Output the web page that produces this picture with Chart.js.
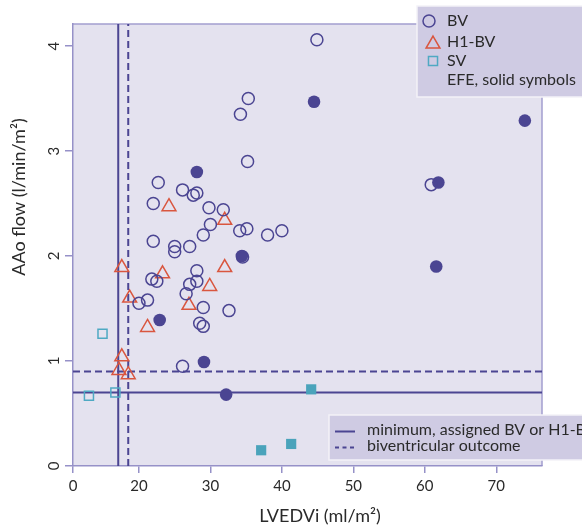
<!DOCTYPE html>
<html lang="en">
<head>
  <meta charset="UTF-8" />
  <title>AAo flow vs LVEDVi</title>
  <script src="https://cdn.jsdelivr.net/npm/chart.js"></script>
  <style>
    body { margin: 0; background: #fff; }
    #wrap { width: 582px; height: 529px; }
  </style>
</head>
<body>
  <div id="wrap"><canvas id="flowChart" width="582" height="529"></canvas></div>

  <script>
    // values: LVEDVi (ml/m2) on x, AAo flow (l/min/m2) on y
    const bvX = [44.9, 35.3, 34.2, 35.2, 22.7, 26.1, 27.6, 28.1, 22.0, 29.8, 31.8, 30.0,
                 34.1, 35.1, 29.0, 22.0, 38.0, 40.0, 25.0, 25.0, 27.1, 34.5, 60.9, 28.1,
                 21.8, 22.5, 27.1, 28.1, 26.6, 21.2, 20.0, 29.0, 32.6, 28.5, 29.0, 26.1];
    const bvY = [4.06, 3.50, 3.35, 2.90, 2.70, 2.63, 2.58, 2.60, 2.50, 2.46, 2.44, 2.30,
                 2.24, 2.26, 2.20, 2.14, 2.20, 2.24, 2.09, 2.04, 2.09, 1.99, 2.68, 1.86,
                 1.78, 1.76, 1.73, 1.76, 1.64, 1.58, 1.55, 1.51, 1.48, 1.36, 1.33, 0.95];

    const bvEfeX = [44.5, 74.0, 28.1, 61.9, 34.4, 61.6, 22.9, 29.1, 32.2];
    const bvEfeY = [3.47, 3.29, 2.80, 2.70, 2.00, 1.90, 1.39, 0.99, 0.68];

    const h1X = [24.2, 32.0, 17.6, 23.3, 32.0, 29.9, 18.7, 27.0, 21.2, 17.6, 17.2, 18.5];
    const h1Y = [2.47, 2.34, 1.89, 1.83, 1.89, 1.71, 1.60, 1.53, 1.32, 1.04, 0.91, 0.87];

    const svX = [14.9, 16.7, 13.0];
    const svY = [1.26, 0.70, 0.67];

    const svEfeX = [44.1, 37.1, 41.3];
    const svEfeY = [0.73, 0.15, 0.21];

    // cut-offs
    const minLvedvi = 17.1;
    const bvLvedvi = 18.5;
    const minFlow = 0.7;
    const bvFlow = 0.9;

    // axes (x axis is broken: its origin is labelled 0)
    const xMin = 10.77, xMax = 76.4;
    const yMin = 0, yMax = 4.21;
    const xTickValues = [xMin, 20, 30, 40, 50, 60, 70];
    const xTickLabels = ['0', '20', '30', '40', '50', '60', '70'];
    const yTickValues = [0, 1, 2, 3, 4];
    const yTickLabels = ['0', '1', '2', '3', '4'];

    const purple = '#4b4592';
    const red = '#d9563f';
    const teal = '#4fa9c3';
    const axisColor = '#9691c8';
    const textColor = '#2a2a2a';
    const fontFamily = "Lato, 'Open Sans', sans-serif";

    const pts = (xs, ys) => xs.map((x, i) => ({ x: x, y: ys[i] }));

    const framePlugin = {
      id: 'frame',
      beforeDraw(chart) {
        const { ctx, chartArea: a } = chart;
        ctx.save();
        ctx.fillStyle = '#e4e2ef';
        ctx.fillRect(a.left, a.top, a.right - a.left, a.bottom - a.top);
        ctx.strokeStyle = '#a39ed0';
        ctx.lineWidth = 1.5;
        ctx.beginPath();
        ctx.moveTo(a.left, a.top);
        ctx.lineTo(a.right, a.top);
        ctx.lineTo(a.right, a.bottom);
        ctx.stroke();
        ctx.restore();
      },
      afterDraw(chart) {
        const ctx = chart.ctx;
        const drawPoint = Chart.helpers.drawPoint;
        ctx.save();

        // axis titles
        ctx.fillStyle = textColor;
        ctx.font = '18px ' + fontFamily;
        ctx.textAlign = 'center';
        ctx.textBaseline = 'middle';
        ctx.fillText('LVEDVi (ml/m²)', 320, 516);
        ctx.save();
        ctx.translate(19, 197);
        ctx.rotate(-Math.PI / 2);
        ctx.fillText('AAo flow (l/min/m²)', 0, 0);
        ctx.restore();

        // group legend
        ctx.fillStyle = '#cfcbe3';
        ctx.strokeStyle = '#f3f2f8';
        ctx.lineWidth = 1.5;
        ctx.fillRect(417, 6, 170, 91);
        ctx.strokeRect(417, 6, 170, 91);

        ctx.lineWidth = 1.5;
        ctx.strokeStyle = purple;
        drawPoint(ctx, { pointStyle: 'circle', radius: 6, rotation: 0, borderWidth: 1.5 }, 429, 21);
        ctx.strokeStyle = red;
        ctx.fillStyle = 'rgba(0,0,0,0)';
        drawPoint(ctx, { pointStyle: 'triangle', radius: 8, rotation: 0, borderWidth: 1.5 }, 433, 44);
        ctx.strokeStyle = teal;
        drawPoint(ctx, { pointStyle: 'rect', radius: 6.4, rotation: 0, borderWidth: 1.5 }, 433, 61);

        ctx.fillStyle = textColor;
        ctx.font = '16px ' + fontFamily;
        ctx.textAlign = 'left';
        ctx.textBaseline = 'middle';
        ctx.fillText('BV', 447, 21);
        ctx.fillText('H1-BV', 447, 42);
        ctx.fillText('SV', 447, 61);
        ctx.fillText('EFE, solid symbols', 447, 80);

        // cut-off legend
        ctx.fillStyle = '#cfcbe3';
        ctx.strokeStyle = '#f3f2f8';
        ctx.fillRect(329, 415, 260, 45);
        ctx.strokeRect(329, 415, 260, 45);
        ctx.strokeStyle = purple;
        ctx.lineWidth = 2;
        ctx.beginPath();
        ctx.moveTo(335, 431.5);
        ctx.lineTo(355, 431.5);
        ctx.stroke();
        ctx.setLineDash([4, 3.5]);
        ctx.beginPath();
        ctx.moveTo(335, 447.5);
        ctx.lineTo(356, 447.5);
        ctx.stroke();
        ctx.setLineDash([]);
        ctx.fillStyle = textColor;
        ctx.fillText('minimum, assigned BV or H1-BV', 367, 430);
        ctx.fillText('biventricular outcome', 367, 446);

        ctx.restore();
      }
    };

    const lineStyle = {
      type: 'line',
      borderColor: purple,
      borderWidth: 2,
      pointRadius: 0,
      fill: false,
      tension: 0
    };

    new Chart(document.getElementById('flowChart'), {
      type: 'scatter',
      data: {
        datasets: [
          {
            label: 'BV',
            data: pts(bvX, bvY),
            pointStyle: 'circle',
            pointRadius: 6,
            pointBorderWidth: 1.5,
            borderColor: purple,
            backgroundColor: 'rgba(0,0,0,0)'
          },
          {
            label: 'BV, EFE',
            data: pts(bvEfeX, bvEfeY),
            pointStyle: 'circle',
            pointRadius: 6.3,
            pointBorderWidth: 0,
            borderColor: purple,
            backgroundColor: purple
          },
          {
            label: 'H1-BV',
            data: pts(h1X, h1Y),
            pointStyle: 'triangle',
            pointRadius: 8,
            pointBorderWidth: 1.5,
            borderColor: red,
            backgroundColor: 'rgba(0,0,0,0)'
          },
          {
            label: 'SV',
            data: pts(svX, svY),
            pointStyle: 'rect',
            pointRadius: 6.4,
            pointBorderWidth: 1.5,
            borderColor: teal,
            backgroundColor: 'rgba(0,0,0,0)'
          },
          {
            label: 'SV, EFE',
            data: pts(svEfeX, svEfeY),
            pointStyle: 'rect',
            pointRadius: 7.2,
            pointBorderWidth: 0,
            borderColor: '#4aa3bb',
            backgroundColor: '#4aa3bb'
          },
          Object.assign({ label: 'minimum LVEDVi', data: [{ x: minLvedvi, y: yMin }, { x: minLvedvi, y: yMax }] }, lineStyle),
          Object.assign({ label: 'BV LVEDVi', data: [{ x: bvLvedvi, y: yMin }, { x: bvLvedvi, y: yMax }], borderDash: [7, 4] }, lineStyle),
          Object.assign({ label: 'minimum flow', data: [{ x: xMin, y: minFlow }, { x: xMax, y: minFlow }] }, lineStyle),
          Object.assign({ label: 'BV flow', data: [{ x: xMin, y: bvFlow }, { x: xMax, y: bvFlow }], borderDash: [7, 4] }, lineStyle)
        ]
      },
      options: {
        responsive: false,
        animation: false,
        layout: { padding: { left: 0, right: 40, top: 24, bottom: 0 } },
        plugins: {
          legend: { display: false },
          tooltip: { enabled: false }
        },
        scales: {
          x: {
            type: 'linear',
            min: xMin,
            max: xMax,
            afterBuildTicks: axis => { axis.ticks = xTickValues.map(v => ({ value: v })); },
            afterFit: axis => { axis.height = 63; },
            ticks: {
              callback: (v, i) => xTickLabels[i],
              color: textColor,
              font: { family: fontFamily, size: 15 },
              padding: 4,
              maxRotation: 0
            },
            grid: { drawOnChartArea: false, tickLength: 7, color: axisColor, lineWidth: 1.5 },
            border: { color: axisColor, width: 1.5 }
          },
          y: {
            type: 'linear',
            min: yMin,
            max: yMax,
            afterBuildTicks: axis => { axis.ticks = yTickValues.map(v => ({ value: v })); },
            afterFit: axis => { axis.width = 73; },
            ticks: {
              callback: (v, i) => yTickLabels[i],
              color: textColor,
              font: { family: fontFamily, size: 15 },
              padding: 6,
              minRotation: 90,
              maxRotation: 90,
              crossAlign: 'center'
            },
            grid: { drawOnChartArea: false, tickLength: 8, color: axisColor, lineWidth: 1.5 },
            border: { color: axisColor, width: 1.5 }
          }
        }
      },
      plugins: [framePlugin]
    });
  </script>
</body>
</html>
